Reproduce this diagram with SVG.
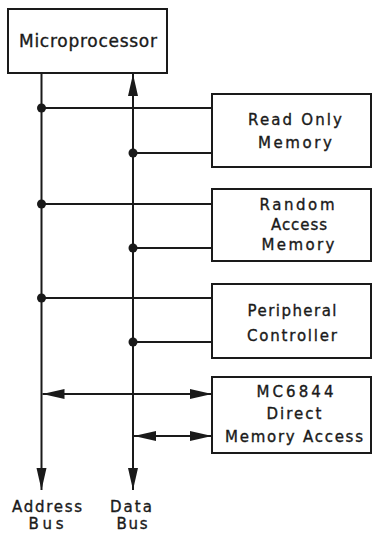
<svg xmlns="http://www.w3.org/2000/svg" width="373" height="534" viewBox="0 0 373 534">
<style>
  .box { fill: #ffffff; stroke: #1a1a1a; stroke-width: 2; }
  .t { font-family: "DejaVu Sans", "Liberation Sans", sans-serif; font-size: 15px; fill: #1a1a1a; stroke: #1a1a1a; stroke-width: 0.35; text-anchor: middle; }
  .big { font-size: 17px; }
  .ln { stroke: #1a1a1a; stroke-width: 2; fill: none; }
  .dot { fill: #1a1a1a; }
</style>
<defs>
  <marker id="arr" markerUnits="userSpaceOnUse" markerWidth="24" markerHeight="12" refX="22" refY="5" orient="auto-start-reverse">
    <path d="M0,0 L22,5 L0,10 z" fill="#1a1a1a"/>
  </marker>
</defs>
<rect width="373" height="534" fill="#ffffff"/>

<g id="connectors">
  <!-- Address bus -->
  <line class="ln" x1="41.5" y1="73" x2="41.5" y2="490" marker-end="url(#arr)"/>
  <!-- Data bus -->
  <line class="ln" x1="133" y1="74" x2="133" y2="490" marker-start="url(#arr)" marker-end="url(#arr)"/>
  <!-- ROM -->
  <line class="ln" x1="41.5" y1="108" x2="212" y2="108"/>
  <line class="ln" x1="133" y1="153" x2="212" y2="153"/>
  <circle class="dot" cx="41.5" cy="108" r="4.5"/>
  <circle class="dot" cx="133" cy="153" r="4.5"/>
  <!-- RAM -->
  <line class="ln" x1="41.5" y1="204" x2="212" y2="204"/>
  <line class="ln" x1="133" y1="248" x2="212" y2="248"/>
  <circle class="dot" cx="41.5" cy="204" r="4.5"/>
  <circle class="dot" cx="133" cy="248" r="4.5"/>
  <!-- Peripheral -->
  <line class="ln" x1="41.5" y1="298" x2="212" y2="298"/>
  <line class="ln" x1="133" y1="342" x2="212" y2="342"/>
  <circle class="dot" cx="41.5" cy="298" r="4.5"/>
  <circle class="dot" cx="133" cy="342" r="4.5"/>
  <!-- DMA -->
  <line class="ln" x1="42.5" y1="394" x2="212" y2="394" marker-start="url(#arr)" marker-end="url(#arr)"/>
  <line class="ln" x1="134" y1="436" x2="212" y2="436" marker-start="url(#arr)" marker-end="url(#arr)"/>
</g>

<g id="microprocessor">
  <rect class="box" x="8" y="9" width="159" height="64"/>
  <text class="t big" x="88" y="47" textLength="138" lengthAdjust="spacing">Microprocessor</text>
</g>

<g id="rom">
  <rect class="box" x="212" y="94" width="159" height="73"/>
  <text class="t" x="295" y="125" textLength="94" lengthAdjust="spacing">Read Only</text>
  <text class="t" x="295" y="148" textLength="74" lengthAdjust="spacing">Memory</text>
</g>

<g id="ram">
  <rect class="box" x="212" y="189" width="159" height="72"/>
  <text class="t" x="297" y="210" textLength="75" lengthAdjust="spacing">Random</text>
  <text class="t" x="299" y="230" textLength="56" lengthAdjust="spacing">Access</text>
  <text class="t" x="298" y="250" textLength="73" lengthAdjust="spacing">Memory</text>
</g>

<g id="peripheral">
  <rect class="box" x="212" y="284" width="159" height="74"/>
  <text class="t" x="292" y="316" textLength="89" lengthAdjust="spacing">Peripheral</text>
  <text class="t" x="292" y="341" textLength="90" lengthAdjust="spacing">Controller</text>
</g>

<g id="dma">
  <rect class="box" x="212" y="377" width="159" height="76"/>
  <text class="t" x="295" y="397" textLength="77" lengthAdjust="spacing">MC6844</text>
  <text class="t" x="294" y="419" textLength="55" lengthAdjust="spacing">Direct</text>
  <text class="t" x="294" y="442" textLength="138" lengthAdjust="spacing">Memory Access</text>
</g>

<g id="address-label">
  <text class="t" x="47" y="512" textLength="70" lengthAdjust="spacing">Address</text>
  <text class="t" x="46" y="529" textLength="35" lengthAdjust="spacing">Bus</text>
</g>

<g id="data-label">
  <text class="t" x="131" y="512" textLength="42" lengthAdjust="spacing">Data</text>
  <text class="t" x="132" y="529" textLength="31" lengthAdjust="spacing">Bus</text>
</g>
</svg>
